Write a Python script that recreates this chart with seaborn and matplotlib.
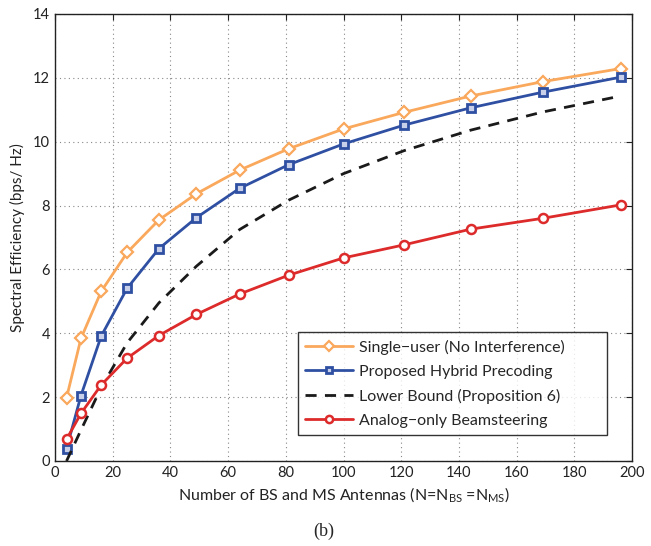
import matplotlib
matplotlib.use("Agg")
import matplotlib.pyplot as plt
import seaborn as sns
import pandas as pd

N = [4, 9, 16, 25, 36, 49, 64, 81, 100, 121, 144, 169, 196]
single_user = [1.98, 3.84, 5.31, 6.53, 7.55, 8.37, 9.11, 9.78, 10.40, 10.92, 11.43, 11.88, 12.29]
hybrid = [0.39, 2.05, 3.91, 5.41, 6.65, 7.62, 8.54, 9.28, 9.93, 10.52, 11.06, 11.55, 12.02]
lower_bound = [0.0, 0.97, 2.3, 3.7, 4.95, 6.1, 7.25, 8.17, 9.0, 9.72, 10.36, 10.93, 11.43]
analog = [0.68, 1.49, 2.38, 3.22, 3.93, 4.59, 5.23, 5.82, 6.36, 6.77, 7.26, 7.60, 8.02]

labels = ["Single\u2212user (No Interference)", "Proposed Hybrid Precoding",
          "Lower Bound (Proposition 6)", "Analog\u2212only Beamsteering"]

sns.set_style("white")
plt.rcParams['font.family'] = ['Lato', 'DejaVu Sans']

fig = plt.figure(figsize=(6.51, 5.46), dpi=100)
ax = fig.add_axes([0.0845, 0.1557, 0.8865, 0.8187])

c_or, c_bl, c_bk, c_rd = "#F9A85C", "#2F4FA2", "#1a1a1a", "#DD2A2A"
series = [
    (single_user, labels[0], dict(color=c_or, marker="D", ms=6.5, mfc="white", mec=c_or, mew=1.6, ls="-")),
    (hybrid, labels[1], dict(color=c_bl, marker="s", ms=5.5, mfc="#c8d0ea", mec=c_bl, mew=2.0, ls="-")),
    (lower_bound, labels[2], dict(color=c_bk, marker=None, ls=(0, (4, 3)))),
    (analog, labels[3], dict(color=c_rd, marker="o", ms=6.5, mfc="white", mec=c_rd, mew=1.8, ls="-")),
]
for vals, lab, kw in series:
    df = pd.DataFrame({"N": N, "SE": vals})
    ls = kw.pop("ls")
    sns.lineplot(data=df, x="N", y="SE", ax=ax, label=lab, linewidth=2, linestyle=ls, **kw)

ax.set_xlim(0, 200)
ax.set_ylim(0, 14)
ax.set_xticks(range(0, 201, 20))
ax.set_yticks(range(0, 15, 2))
ax.grid(True, linestyle=(0, (1, 3)), color="#888888", linewidth=0.8)
ax.tick_params(direction="in", top=True, right=True, length=4, labelsize=10.5, colors="#222222")
for s in ax.spines.values():
    s.set_color("#222222")
    s.set_linewidth(1.0)

ax.set_xlabel(r"Number of BS and MS Antennas (N=N$_\mathregular{BS}$ =N$_\mathregular{MS}$)", fontsize=11.5, color="#222222", labelpad=4)
ax.set_ylabel("Spectral Efficiency (bps/ Hz)", fontsize=11, color="#222222", labelpad=6)

leg = ax.legend(loc="lower left", bbox_to_anchor=(0.421, 0.058, 0.536, 0.228), mode="expand",
                borderaxespad=0, fontsize=11.5, frameon=True,
                fancybox=False, edgecolor="black", handlelength=3.0, handletextpad=0.35,
                borderpad=0.45, labelspacing=0.62, numpoints=1, markerscale=0.8)
leg.get_frame().set_linewidth(1.0)

fig.text(0.497, 0.026, "(b)", fontsize=13, family="Liberation Serif", ha="center", va="center")

fig.savefig("out.png", dpi=100)
